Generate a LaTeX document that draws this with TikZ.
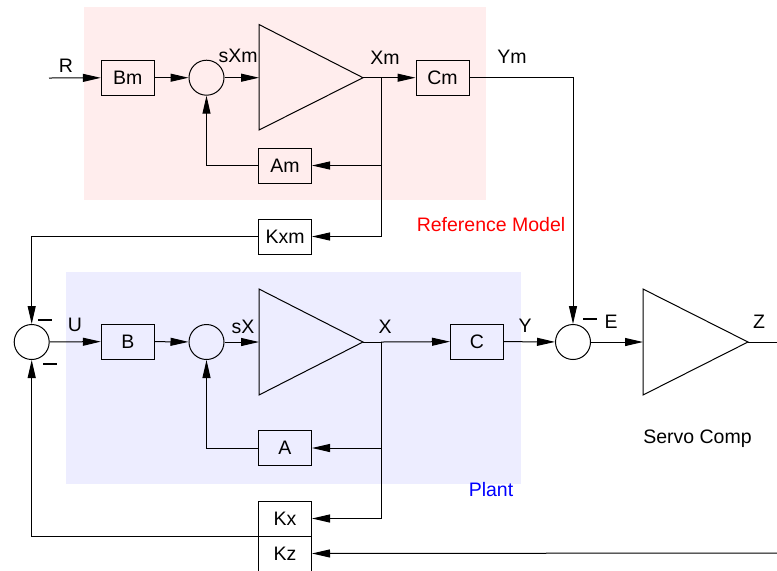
\documentclass[tikz,border=0pt]{standalone}
\usepackage{fontspec}
\setmainfont{Liberation Sans}
\usetikzlibrary{arrows.meta}

\begin{document}
\begin{tikzpicture}[x=0.5pt, y=-0.5pt, line width=0.5pt,
        font=\fontsize{9.75pt}{11pt}\selectfont,
        blk/.style={draw, minimum width=26.5pt, minimum height=17.5pt, inner sep=0pt},
        sumpt/.style={draw, circle, minimum size=17.5pt, inner sep=0pt},
        minus/.style={inner sep=0pt},
        sig/.style={-{Triangle[length=9pt, width=4pt]}}]
        \useasboundingbox (0,0) rectangle (777,570);
        
        % Shaded regions
        \fill[red!7] (84,7) rectangle (486,200);
        \fill[blue!7] (66,272) rectangle (521,484);
        \node[red] (refname) at (491,225) {Reference Model};
        \node[blue] (plantname) at (491,489.5) {Plant};
        
        % Reference model
        \coordinate (rin) at (49,78);
        \node[blk] (bm) at (127.8,77.7) {Bm};
        \node[sumpt] (sm) at (206.5,77.7) {};
        \coordinate (intm) at (259,77.7);
        \coordinate (intmout) at (363,77.7);
        \draw (259,24.5) -- (intmout) -- (259,130) -- cycle;
        \coordinate (brm) at (381,77.7);
        \node[blk] (cm) at (442.5,77.7) {Cm};
        \node[blk] (am) at (285,165.5) {Am};
        \node[blk] (kxm) at (285,236.5) {Kxm};
        \node (rlbl) at (66,66) {R};
        \node (sxmlbl) at (238,56) {sXm};
        \node (xmlbl) at (385,58) {Xm};
        \node (ymlbl) at (512,57) {Ym};
        
        \draw[sig] (rin) -- (bm);
        \draw[sig] (bm) -- (sm);
        \draw[sig] (sm) -- (intm);
        \draw (intmout) -- (brm);
        \draw[sig] (brm) -- (cm);
        \draw[sig] (brm) |- (am);
        \draw[sig] (am) -| (sm);
        \draw[sig] (brm) |- (kxm);
        
        % Plant
        \node[sumpt] (su) at (31.7,342) {};
        \node[blk] (b) at (127.8,341.5) {B};
        \node[sumpt] (sp) at (206.5,342) {};
        \coordinate (intp) at (259,342);
        \coordinate (intpout) at (363,342);
        \draw (259,289) -- (intpout) -- (259,395) -- cycle;
        \coordinate (brp) at (381,342);
        \node[blk] (c) at (477,341.5) {C};
        \node[blk] (a) at (285,448) {A};
        \node[blk] (kx) at (285,518.5) {Kx};
        \node[blk] (kz) at (285,553.5) {Kz};
        \node (ulbl) at (75,325) {U};
        \node (sxlbl) at (243,327) {sX};
        \node (xlbl) at (385,327) {X};
        \node (ylbl) at (525,326) {Y};
        \node[minus] (mtop) at (45.5,320) {\rule{7pt}{1pt}};
        \node[minus] (mbot) at (50,363.5) {\rule{7pt}{1pt}};
        
        \draw[sig] (su) -- (b);
        \draw[sig] (b) -- (sp);
        \draw[sig] (sp) -- (intp);
        \draw (intpout) -- (brp);
        \draw[sig] (brp) -- (c);
        \draw[sig] (brp) |- (a);
        \draw[sig] (a) -| (sp);
        \draw[sig] (brp) |- (kx);
        \draw[sig] (kxm) -| (su);
        \draw[sig] (kx.south west) -| (su);
        
        % Servo compensator
        \node[sumpt] (se) at (573,342) {};
        \coordinate (srv) at (643,342);
        \coordinate (srvout) at (748,342);
        \draw (643,289) -- (srvout) -- (643,395) -- cycle;
        \coordinate (zout) at (777,342);
        \coordinate (zin) at (777,553);
        \node (elbl) at (611,322) {E};
        \node (zlbl) at (759,322) {Z};
        \node[minus] (me) at (590,319) {\rule{7pt}{1pt}};
        \node (srvname) at (697.5,439) {Servo Comp};
        
        \draw[sig] (cm) -| (se);
        \draw[sig] (c) -- (se);
        \draw[sig] (se) -- (srv);
        \draw (srvout) -- (zout);
        \draw[sig] (zin) -- (kz);
    \end{tikzpicture}
\end{document}
